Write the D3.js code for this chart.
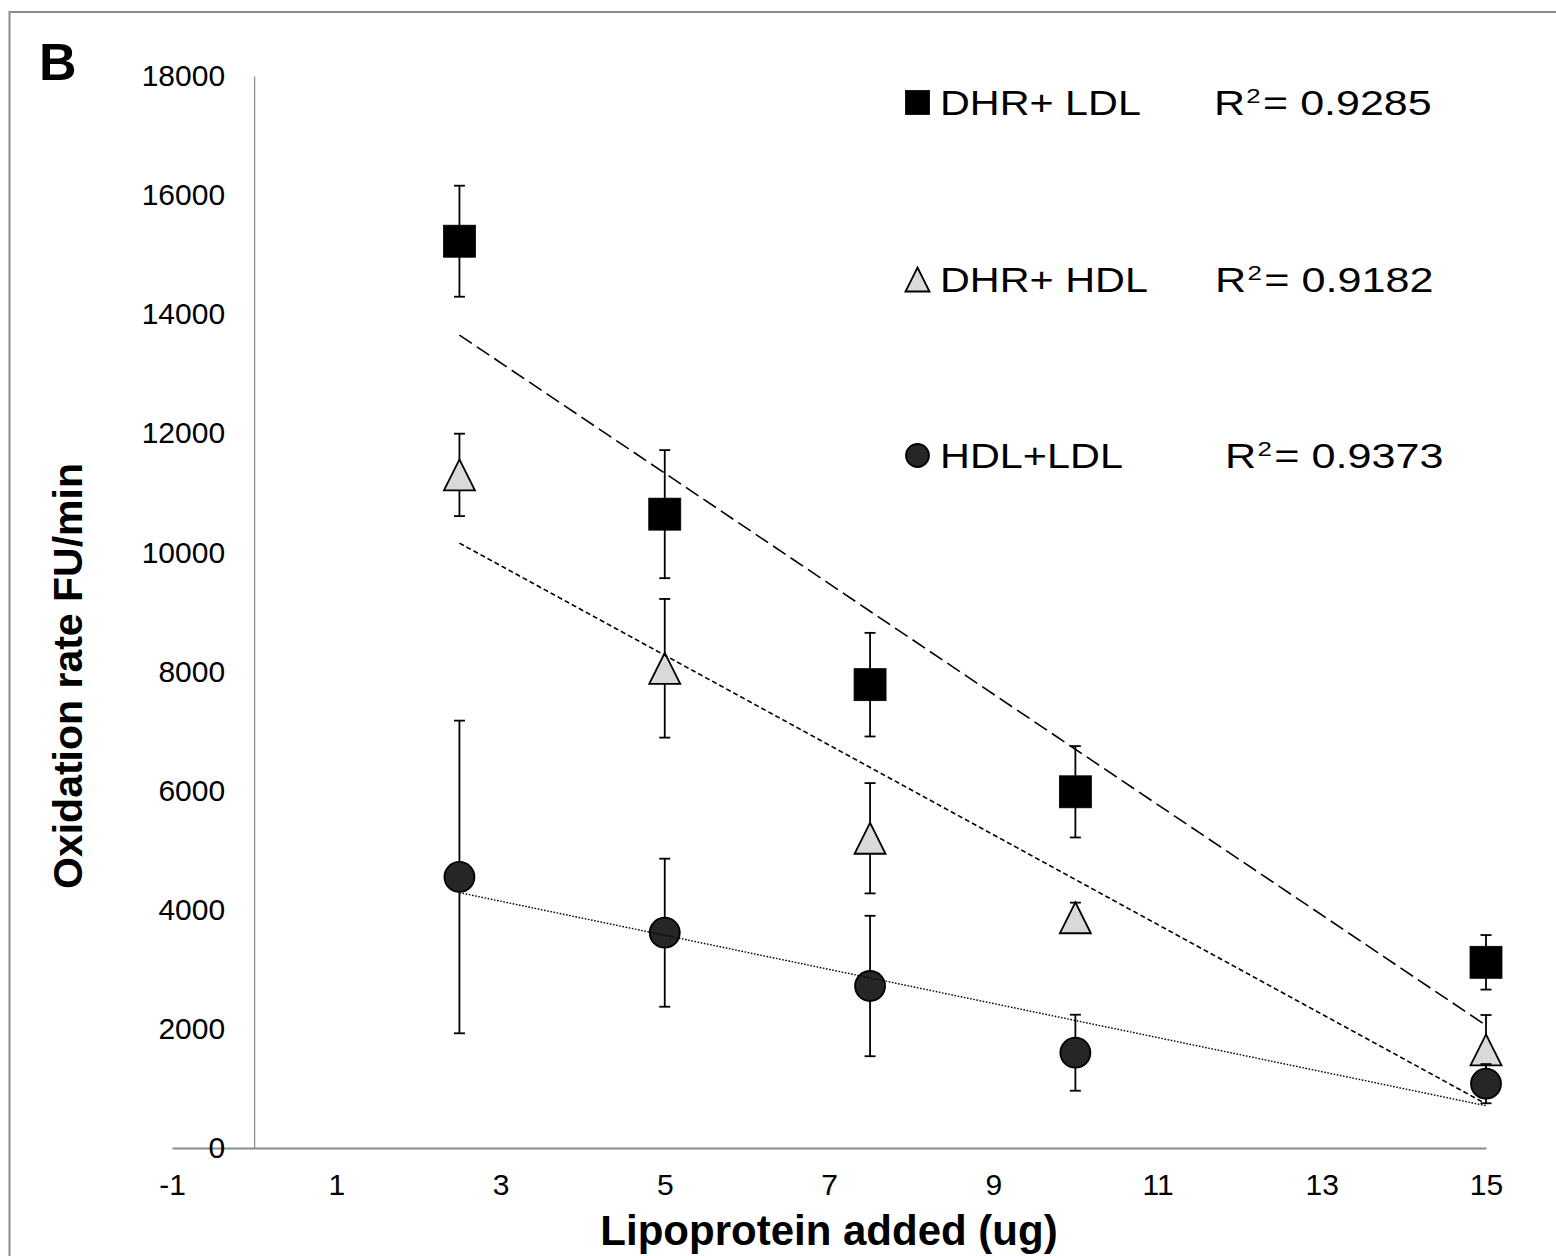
<!DOCTYPE html>
<html>
<head>
<meta charset="utf-8">
<script src="https://cdn.jsdelivr.net/npm/d3@7"></script>
<style>
  html, body { margin: 0; padding: 0; background: #ffffff; }
  svg { display: block; font-family: Arial, "Liberation Sans", Helvetica, sans-serif; }
</style>
</head>
<body>
<svg id="chart" width="1556" height="1256"></svg>
<script>
// Lipoprotein amount added (ug)
const doses = [2.5, 5, 7.5, 10, 15];

// Oxidation rate (FU/min), mean and error per dose
const dhrLdlMeans  = [15226, 10643, 7780, 5981, 3118];
const dhrLdlErrors = [932, 1075, 870, 767, 458];

const dhrHdlMeans  = [11302, 8055, 5201, 3866, 1646];
const dhrHdlErrors = [692, 1164, 926, 254, 587];

const hdlLdlMeans  = [4551, 3615, 2720, 1600, 1080];
const hdlLdlErrors = [2625, 1243, 1179, 638, 329];

const seriesNames = ["DHR+ LDL", "DHR+ HDL", "HDL+LDL"];
const rSquaredLabels = ["0.9285", "0.9182", "0.9373"];

const xTickValues = [-1, 1, 3, 5, 7, 9, 11, 13, 15];
const yTickValues = [0, 2000, 4000, 6000, 8000, 10000, 12000, 14000, 16000, 18000];

const xTitle = "Lipoprotein added (ug)";
const yTitle = "Oxidation rate FU/min";
const panelLetter = "B";

// ---------------------------------------------------------------
const svg = d3.select("#chart");
const axisGrey = "#8a8a8a";
const plainNumber = d => String(d);   // keeps an ASCII hyphen for negatives

const x = d3.scaleLinear().domain([-1, 15]).range([172, 1486]);
const y = d3.scaleLinear().domain([0, 18000]).range([1148, 76]);

// outer frame of the figure panel
svg.append("rect")
  .attr("x", 9.5).attr("y", 12)
  .attr("width", 1600).attr("height", 1300)
  .attr("fill", "none").attr("stroke", axisGrey).attr("stroke-width", 2);

// panel letter
svg.append("text")
  .attr("x", 39).attr("y", 80)
  .attr("font-size", 52).attr("font-weight", "bold")
  .text(panelLetter);

// x axis (horizontal line at y = 0)
const xAxis = svg.append("g")
  .attr("transform", `translate(0,${y(0)})`)
  .call(d3.axisBottom(x).tickValues(xTickValues).tickSize(0).tickSizeOuter(0).tickPadding(26)
    .tickFormat(plainNumber));
xAxis.select(".domain").attr("stroke", axisGrey).attr("stroke-width", 2.2);
xAxis.selectAll("text").attr("font-size", 30).attr("fill", "#000")
  .attr("font-family", "Arial, 'Liberation Sans', sans-serif");

// y axis (vertical line at x = 0)
const yAxis = svg.append("g")
  .attr("transform", `translate(${x(0)},0)`)
  .call(d3.axisLeft(y).tickValues(yTickValues).tickSize(0).tickSizeOuter(0).tickPadding(29)
    .tickFormat(plainNumber));
yAxis.select(".domain").attr("stroke", axisGrey).attr("stroke-width", 1.2);
yAxis.selectAll("text").attr("font-size", 30).attr("fill", "#000")
  .attr("font-family", "Arial, 'Liberation Sans', sans-serif");

// axis titles
svg.append("text")
  .attr("x", (x.range()[0] + x.range()[1]) / 2).attr("y", 1245)
  .attr("text-anchor", "middle")
  .attr("font-size", 42).attr("font-weight", "bold")
  .text(xTitle);

svg.append("text")
  .attr("transform", "translate(82,676) rotate(-90)")
  .attr("text-anchor", "middle")
  .attr("font-size", 41).attr("font-weight", "bold")
  .text(yTitle);

// ---------------------------------------------------------------
const series = [
  { name: seriesNames[0], means: dhrLdlMeans, errors: dhrLdlErrors, shape: "square",
    fill: "#000000", dash: "15,6", r2: rSquaredLabels[0] },
  { name: seriesNames[1], means: dhrHdlMeans, errors: dhrHdlErrors, shape: "triangle",
    fill: "#d9d9d9", dash: "5,3", r2: rSquaredLabels[1] },
  { name: seriesNames[2], means: hdlLdlMeans, errors: hdlLdlErrors, shape: "circle",
    fill: "#262626", dash: "1.6,1.6", r2: rSquaredLabels[2] }
];

function drawMarker(g, shape, cx, cy, size, fill) {
  const h = size / 2;
  if (shape === "square") {
    g.append("rect").attr("x", cx - h).attr("y", cy - h)
      .attr("width", size).attr("height", size)
      .attr("fill", fill).attr("stroke", "#000").attr("stroke-width", 0.8);
  } else if (shape === "triangle") {
    g.append("path")
      .attr("d", `M${cx},${cy - h}L${cx + h},${cy + h}L${cx - h},${cy + h}Z`)
      .attr("fill", fill).attr("stroke", "#000").attr("stroke-width", 1.8)
      .attr("stroke-linejoin", "miter");
  } else {
    g.append("circle").attr("cx", cx).attr("cy", cy).attr("r", h - 0.5)
      .attr("fill", fill).attr("stroke", "#000").attr("stroke-width", 1.8);
  }
}

const plot = svg.append("g");

// error bars, then markers, series by series
series.forEach(s => {
  const g = plot.append("g");
  doses.forEach((d, i) => {
    const cx = x(d);
    const top = y(s.means[i] + s.errors[i]);
    const bot = y(s.means[i] - s.errors[i]);
    g.append("line").attr("x1", cx).attr("x2", cx).attr("y1", top).attr("y2", bot)
      .attr("stroke", "#000").attr("stroke-width", 1.8);
    [top, bot].forEach(yy => {
      g.append("line").attr("x1", cx - 5.5).attr("x2", cx + 5.5).attr("y1", yy).attr("y2", yy)
        .attr("stroke", "#000").attr("stroke-width", 1.8);
    });
  });
  doses.forEach((d, i) => {
    drawMarker(g, s.shape, x(d), y(s.means[i]), s.shape === "square" ? 32 : 31, s.fill);
  });
});

// least-squares linear trendlines over the plotted means
function linearFit(xs, ys) {
  const mx = d3.mean(xs), my = d3.mean(ys);
  let sxy = 0, sxx = 0;
  xs.forEach((xv, i) => { sxy += (xv - mx) * (ys[i] - my); sxx += (xv - mx) * (xv - mx); });
  const slope = sxy / sxx;
  return xv => my + slope * (xv - mx);
}

const trendLine = d3.line().x(d => x(d[0])).y(d => y(d[1]));
series.forEach(s => {
  const f = linearFit(doses, s.means);
  const ends = d3.extent(doses);
  plot.append("path")
    .attr("d", trendLine(ends.map(v => [v, f(v)])))
    .attr("fill", "none").attr("stroke", "#000")
    .attr("stroke-width", s.shape === "circle" ? 1.4 : 1.6)
    .attr("stroke-dasharray", s.dash);
});

// ---------------------------------------------------------------
// legend with R-squared values; the text box type is set slightly wide,
// so each line is stretched horizontally to its box width
const legendRows = [
  { baseline: 115, nameWidth: 201, r2x: 1214, r2Width: 214 },
  { baseline: 292, nameWidth: 208, r2x: 1215, r2Width: 215 },
  { baseline: 468, nameWidth: 183, r2x: 1225, r2Width: 215 }
];

function stretchTo(textSel, left, baseline, width) {
  const natural = textSel.node().getComputedTextLength();
  textSel.attr("transform", `translate(${left},${baseline}) scale(${width / natural},1)`);
}

series.forEach((s, i) => {
  const row = legendRows[i];
  const g = svg.append("g");
  drawMarker(g, s.shape, 917.5, row.baseline - 12.5, 24, s.fill);

  const nameText = g.append("text")
    .attr("font-size", 35)
    .text(s.name);
  stretchTo(nameText, 940, row.baseline, row.nameWidth);

  const r = g.append("text").attr("font-size", 35);
  r.append("tspan").text("R");
  r.append("tspan").attr("font-size", 21).attr("dy", -12).attr("dx", 1).text("2");
  r.append("tspan").attr("dy", 12).attr("dx", 2).text("= " + s.r2);
  stretchTo(r, row.r2x, row.baseline, row.r2Width);
});
</script>
</body>
</html>
